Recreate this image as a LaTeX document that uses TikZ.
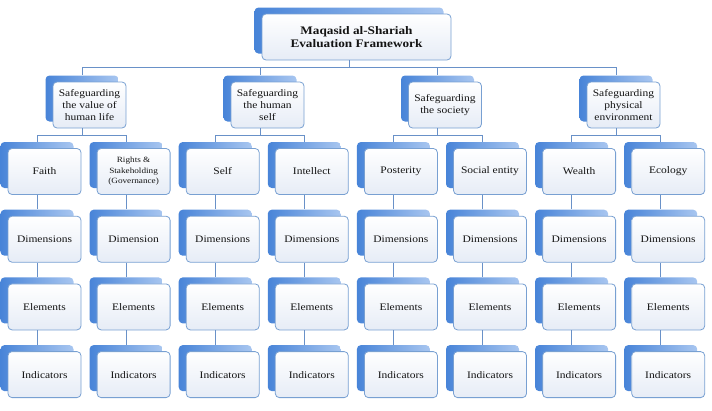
\documentclass[tikz,border=0pt]{standalone}
\usepackage{fontspec}
\setmainfont[FakeStretch=1.15]{Liberation Serif}
\usepackage{tikz}
\usetikzlibrary{shadows}

\definecolor{boxline}{RGB}{120,160,210}
\definecolor{cardbot}{RGB}{230,236,246}
\definecolor{shadeL}{RGB}{72,132,216}
\definecolor{shadeR}{RGB}{168,198,240}
\definecolor{linecol}{RGB}{105,145,200}
\definecolor{inkcol}{RGB}{20,20,20}

\tikzset{
    card/.style={draw=boxline, line width=0.8pt, rounded corners=4pt,
        top color=white, bottom color=cardbot, text=inkcol,
        minimum width=73pt, minimum height=46pt, inner sep=1pt, align=center,
        font=\fontsize{10}{12}\selectfont,
        general shadow={shadow xshift=-7.5pt, shadow yshift=6.5pt,
            left color=shadeL, right color=shadeR, draw=none}},
    smallcard/.style={font=\fontsize{8}{10.5}\selectfont},
    plaincard/.style={},
    link/.style={draw=linecol, line width=0.8pt},
    frombk/.style={xshift=-7.5pt},
    tobk/.style={shift={(-7.5pt,6.5pt)}}
}

\begin{document}
\begin{tikzpicture}[x=1pt, y=-1pt]
    \useasboundingbox (0,0) rectangle (712,410);

    % top of the tree
    \node[card, minimum width=189pt, font=\bfseries\fontsize{11.5}{12.5}\selectfont]
        (msf) at (356.5,37) {Maqasid al-Shariah\\Evaluation Framework};

    % the four aims
    \node[card] (hl) at (89.5,105)  {Safeguarding\\the value of\\human life};
    \node[card] (hs) at (267.5,105) {Safeguarding\\the human\\self};
    \node[card] (so) at (445,105)   {Safeguarding\\the society};
    \node[card] (pe) at (623.5,105) {Safeguarding\\physical\\environment};

    \foreach \a in {hl,hs,so,pe}
        \draw[link] ([frombk]msf.south) -- ++(0,7) -| ([tobk]\a.north);

    % the eight maqasid with their dimensions, elements and indicators
    \foreach \n/\p/\s/\t/\d [count=\i from 0] in {
        fa/hl/plaincard/Faith/Dimensions,
        ri/hl/smallcard/{Rights \&\\Stakeholding\\(Governance)}/Dimension,
        se/hs/plaincard/Self/Dimensions,
        in/hs/plaincard/Intellect/Dimensions,
        po/so/plaincard/Posterity/Dimensions,
        sc/so/plaincard/Social entity/Dimensions,
        we/pe/plaincard/Wealth/Dimensions,
        ec/pe/plaincard/Ecology/Dimensions}
    {
        \node[card, \s] (\n) at ({44.5+89.1*\i},171.5) {\t};
        \node[card] (\n-dim) at ({44.5+89.1*\i},239.2) {\d};
        \node[card] (\n-el)  at ({44.5+89.1*\i},306.9) {Elements};
        \node[card] (\n-ind) at ({44.5+89.1*\i},374.6) {Indicators};

        \draw[link] ([frombk]\p.south) -- ++(0,7) -| ([tobk]\n.north);
        \draw[link] ([frombk]\n.south) -- ([tobk]\n-dim.north);
        \draw[link] ([frombk]\n-dim.south) -- ([tobk]\n-el.north);
        \draw[link] ([frombk]\n-el.south) -- ([tobk]\n-ind.north);
    }
\end{tikzpicture}
\end{document}
